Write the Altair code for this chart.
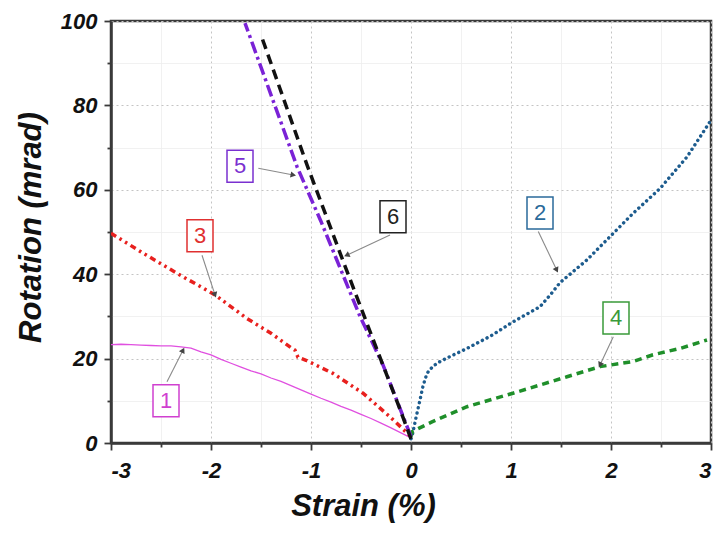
import math
import altair as alt
import pandas as pd

# ---- data ----
s1_x = [-3.0, -2.9, -2.8, -2.7, -2.6, -2.5, -2.4, -2.3, -2.2, -2.1, -2.0, -1.9, -1.8, -1.7, -1.6, -1.5,
        -1.4, -1.3, -1.2, -1.1, -1.0, -0.9, -0.8, -0.7, -0.6, -0.5, -0.4, -0.3, -0.2, -0.1, 0.0]
s1_y = [23.3, 23.4, 23.3, 23.2, 23.1, 23.0, 23.0, 22.8, 22.5, 21.6, 20.9, 19.8, 18.9, 18.0, 17.1, 16.4,
        15.4, 14.6, 13.6, 12.6, 11.6, 10.6, 9.7, 8.7, 7.8, 6.8, 5.8, 4.7, 3.6, 2.4, 1.2]

s2_x = [0.0, 0.01, 0.05, 0.09, 0.12, 0.16, 0.22, 0.29, 0.40, 0.56, 0.80, 1.02, 1.29, 1.40, 1.49, 1.76, 1.99,
        2.22, 2.49, 2.76, 3.0]
s2_y = [1.0, 1.5, 6.0, 10.2, 13.5, 16.5, 18.2, 19.3, 20.6, 22.4, 25.4, 28.7, 32.3, 35.3, 38.0, 43.4, 48.9,
        54.4, 60.3, 67.8, 76.5]

s3_x = [-3.0, -2.68, -2.31, -1.96, -1.64, -1.40, -1.20, -1.16, -1.13, -1.05, -0.78, -0.48, -0.21, 0.0]
s3_y = [49.7, 45.0, 39.8, 35.1, 29.5, 26.0, 22.6, 22.0, 20.3, 19.6, 16.5, 11.8, 6.2, 1.5]

s4_x = [0.0, 0.01, 0.21, 0.56, 1.02, 1.56, 1.89, 2.22, 2.42, 2.69, 2.96]
s4_y = [1.5, 2.7, 5.0, 8.6, 11.8, 15.7, 18.1, 19.3, 20.9, 22.4, 24.4]

s5_x = [0.0, -0.28, -0.51, -0.9, -1.14, -1.66]
s5_y = [1.5, 18.5, 30.0, 52.5, 65.5, 99.5]

s6_x = [0.0, -0.12, -0.39, -0.69, -1.04, -1.49]
s6_y = [1.0, 8.6, 25.2, 43.8, 65.9, 96.0]

series_ids = ["1", "2", "3", "4", "5", "6"]
series_x = [s1_x, s2_x, s3_x, s4_x, s5_x, s6_x]
series_y = [s1_y, s2_y, s3_y, s4_y, s5_y, s6_y]

# label boxes (data units)
label_x = [-2.45, 1.29, -2.11, 2.05, -1.71, -0.18]
label_y = [10.0, 54.5, 49.1, 29.6, 65.6, 53.6]

# annotation arrows: tail -> head (data units)
arrow_x0 = [-2.44, 1.273, -2.09, 2.023, -1.527, -0.21]
arrow_y0 = [14.5, 50.1, 44.5, 25.2, 65.1, 49.3]
arrow_x1 = [-2.28, 1.457, -1.96, 1.89, -1.177, -0.643]
arrow_y1 = [22.0, 41.0, 35.1, 18.5, 63.5, 44.5]

x_ticks = [-3, -2.5, -2, -1.5, -1, -0.5, 0, 0.5, 1, 1.5, 2, 2.5, 3]
y_ticks = [0, 10, 20, 30, 40, 50, 60, 70, 80, 90, 100]

# ---- styles ----
colors = ["#e050e0", "#1d5c8e", "#e8201e", "#1f8f2a", "#7a22d6", "#111111"]
box_colors = ["#d040d0", "#2a6a9a", "#e03030", "#3a9a3a", "#7a30d0", "#222222"]
dashes = [[], [0.1, 5.2], [6, 4, 2.5, 4, 2.5, 4], [7, 5], [12, 4, 3, 4], [10, 6]]
widths = [1.3, 3.4, 3.5, 3.5, 3.5, 3.5]
caps = ["butt", "round", "butt", "butt", "butt", "butt"]

FONT = "Liberation Sans"
W, H = 600, 422
PX_X = W / 6.0
PX_Y = H / 100.0

xs = alt.Scale(domain=[-3, 3], nice=False, zero=False)
ys = alt.Scale(domain=[0, 100], nice=False, zero=False)

x_axis = alt.Axis(
    values=x_ticks,
    labelExpr="datum.value % 1 === 0 ? '' + datum.value : ''",
    title="Strain (%)",
    grid=True,
    gridDash={"condition": {"test": "datum.value % 1 === 0", "value": [2, 3]}, "value": [1, 0]},
    gridColor={"condition": {"test": "datum.value % 1 === 0", "value": "#c4c4c4"}, "value": "#ececec"},
    tickSize={"condition": {"test": "datum.value % 1 === 0", "value": 7}, "value": 4},
    labelPadding=10,
    titleX=252, titleY=48, titleAnchor="middle", titleBaseline="top",
)
y_axis = alt.Axis(
    values=y_ticks,
    labelExpr="datum.value % 20 === 0 ? '' + datum.value : ''",
    title="Rotation (mrad)",
    grid=True,
    gridDash={"condition": {"test": "datum.value % 20 === 0", "value": [2, 3]}, "value": [1, 0]},
    gridColor={"condition": {"test": "datum.value % 20 === 0", "value": "#c4c4c4"}, "value": "#ececec"},
    tickSize={"condition": {"test": "datum.value % 20 === 0", "value": 7}, "value": 4},
    labelPadding=7,
    titleX=-80, titleY=206, titleAnchor="middle", titleBaseline="middle", titleAngle=270,
)

def X(field):
    return alt.X(field, type="quantitative", scale=xs, axis=x_axis)

def Y(field):
    return alt.Y(field, type="quantitative", scale=ys, axis=y_axis)

layers = []

frames = []
for sid, sx, sy in zip(series_ids, series_x, series_y):
    frames.append(pd.DataFrame({"x": sx, "y": sy, "s": sid, "o": range(len(sx))}))
all_df = pd.concat(frames, ignore_index=True)

order = ["1", "3", "2", "4", "5", "6"]
for sid in order:
    i = series_ids.index(sid)
    d = all_df[all_df.s == sid]
    mk = dict(color=colors[i], strokeWidth=widths[i], strokeCap=caps[i], clip=True)
    if dashes[i]:
        mk["strokeDash"] = dashes[i]
    layers.append(alt.Chart(d).mark_line(**mk).encode(x=X("x"), y=Y("y"), order="o:Q"))

# arrows
arr_df = pd.DataFrame({"x0": arrow_x0, "y0": arrow_y0, "x1": arrow_x1, "y1": arrow_y1})
ang = []
for a, b, c, e in zip(arrow_x0, arrow_y0, arrow_x1, arrow_y1):
    dx = (c - a) * PX_X
    dy = -(e - b) * PX_Y
    ang.append(math.degrees(math.atan2(dx, -dy)) % 360)
arr_df["ang"] = ang

arrow_lines = alt.Chart(arr_df).mark_rule(color="#8a8a8a", strokeWidth=1.1).encode(
    x=X("x0"), y=Y("y0"), x2="x1:Q", y2="y1:Q",
)
arrow_heads = alt.Chart(arr_df).mark_point(shape="triangle-up", filled=True, color="#444444",
                                           size=40, opacity=1).encode(
    x=X("x1"), y=Y("y1"), angle=alt.Angle("ang:Q", scale=None),
)
layers += [arrow_lines, arrow_heads]

# label boxes
lab_df = pd.DataFrame({"x": label_x, "y": label_y, "t": series_ids, "c": box_colors})
boxes = alt.Chart(lab_df).mark_rect(width=26, height=32, fill="white", strokeWidth=1.5).encode(
    x=X("x"), y=Y("y"), stroke=alt.Stroke("c:N", scale=None),
)
texts = alt.Chart(lab_df).mark_text(font=FONT, fontSize=22, baseline="middle", align="center").encode(
    x=X("x"), y=Y("y"), text="t:N", color=alt.Color("c:N", scale=None),
)
layers += [boxes, texts]

chart = alt.layer(*layers).properties(
    width=W, height=H,
    autosize=alt.AutoSizeParams(type="none"),
    padding={"left": 103, "top": 13, "right": 3, "bottom": 84},
    background="white",
).configure_view(
    stroke="#3a3a3a", strokeWidth=2.5,
).configure_axis(
    labelFont=FONT, labelFontSize=22, labelFontWeight="bold", labelFontStyle="italic",
    labelColor="#111111",
    titleFont=FONT, titleFontSize=31, titleFontWeight="bold", titleFontStyle="italic",
    titleColor="#111111",
    domainColor="#3a3a3a", domainWidth=2.5,
    tickColor="#3a3a3a", tickWidth=1.8,
    gridWidth=1,
)

chart.save("out.html", embed_options={"renderer": "svg", "actions": False})
